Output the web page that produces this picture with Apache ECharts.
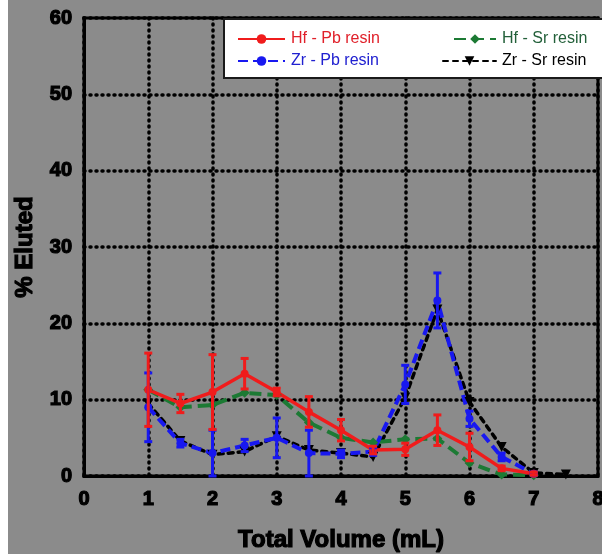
<!DOCTYPE html>
<html>
<head>
<meta charset="utf-8">
<script src="https://cdn.jsdelivr.net/npm/echarts@6/dist/echarts.min.js"></script>
<style>
  html, body { margin: 0; padding: 0; background: #ffffff; }
  #chart { position: absolute; left: 0; top: 0; width: 602px; height: 554px; }
</style>
</head>
<body>
<div id="chart"></div>
<script>
// Elution volumes (mL)
const volume = [1, 1.5, 2, 2.5, 3, 3.5, 4, 4.5, 5, 5.5, 6, 6.5, 7, 7.5];

// % eluted per fraction, with standard deviations where shown
const hfPb    = [11.3, 9.5, 11.0, 13.4, 11.0, 8.4, 6.0, 3.4, 3.5, 6.0, 3.8, 1.0, 0.3, null];
const hfPbErr = [4.8, 1.2, 4.9, 2.0, 0.5, 2.0, 1.4, 0.5, 0.8, 2.0, 1.8, 0.3, 0.2, null];
const zrPb    = [9.0, 4.3, 3.0, 4.0, 5.0, 3.0, 2.9, 3.2, 12.0, 23.0, 7.5, 2.5, 0.3, null];
const zrPbErr = [4.5, 0.5, 3.0, 0.8, 2.6, 3.0, 0.5, 0.5, 2.5, 3.6, 1.0, 0.5, 0.2, null];
const hfSr    = [11.3, 9.0, 9.3, 10.9, 10.6, 7.0, 5.0, 4.4, 4.8, 4.9, 1.7, 0.2, 0.1, null];
const zrSr    = [9.5, 4.6, 2.8, 3.2, 5.2, 3.4, 3.0, 2.5, 10.3, 21.8, 9.7, 3.8, 0.4, 0.2];

// Axis ticks
const xTicks = [0, 1, 2, 3, 4, 5, 6, 7, 8];
const yTicks = [0, 10, 20, 30, 40, 50, 60];

const seriesNames = ['Hf - Pb resin', 'Zr - Pb resin', 'Hf - Sr resin', 'Zr - Sr resin'];

const RED = '#f01c1c', BLUE = '#1818f0', GREEN = '#1c7a34', BLACK = '#000000';
const FONT = '"Liberation Sans", Arial, sans-serif';

function pairs(ys) {
  const out = [];
  ys.forEach((y, i) => { if (y !== null && y !== undefined) out.push([volume[i], y]); });
  return out;
}
function errTriples(ys, es) {
  const out = [];
  ys.forEach((y, i) => {
    if (y !== null && es[i] !== null) out.push([volume[i], Math.max(0, y - es[i]), y + es[i]]);
  });
  return out;
}
function errorBarSeries(ys, es, color) {
  return {
    type: 'custom',
    z: 3,
    silent: true,
    data: errTriples(ys, es),
    renderItem: function (params, api) {
      const lo = api.coord([api.value(0), api.value(1)]);
      const hi = api.coord([api.value(0), api.value(2)]);
      const cap = 4;
      const style = { stroke: color, lineWidth: 3 };
      return {
        type: 'group',
        children: [
          { type: 'line', shape: { x1: lo[0], y1: lo[1], x2: hi[0], y2: hi[1] }, style: style },
          { type: 'line', shape: { x1: hi[0] - cap, y1: hi[1], x2: hi[0] + cap, y2: hi[1] }, style: style },
          { type: 'line', shape: { x1: lo[0] - cap, y1: lo[1], x2: lo[0] + cap, y2: lo[1] }, style: style }
        ]
      };
    }
  };
}

const tickText = {
  color: '#000', fontFamily: FONT, fontWeight: 'bold', fontSize: 20,
  textBorderColor: '#000', textBorderWidth: 1.2
};

const chart = echarts.init(document.getElementById('chart'), null, { renderer: 'canvas' });

function legendAt(name, left, top, width, color) {
  return {
    data: [{ name: name, textStyle: { color: color } }],
    left: left, top: top, padding: 0,
    itemWidth: width, itemHeight: 12, itemGap: 0,
    selectedMode: false,
    textStyle: { fontFamily: FONT, fontSize: 16, padding: [0, 0, 0, 1] }
  };
}

chart.setOption({
  backgroundColor: '#8b8b8b',
  animation: false,
  grid: {
    left: 84, right: 4, top: 18, bottom: 78,
    outerBoundsMode: 'none', containLabel: false,
    show: true, borderColor: '#000', borderWidth: 3, backgroundColor: 'transparent'
  },
  xAxis: {
    type: 'value', min: xTicks[0], max: xTicks[xTicks.length - 1], interval: 1,
    name: 'Total Volume (mL)', nameLocation: 'middle', nameGap: 52,
    nameTextStyle: { color: '#000', fontFamily: FONT, fontWeight: 'bold', fontSize: 24, textBorderColor: '#000', textBorderWidth: 1.2 },
    axisLine: { show: true, lineStyle: { color: '#000', width: 3 } },
    axisTick: { show: false },
    axisLabel: Object.assign({ margin: 13, showMaxLabel: true, showMinLabel: true }, tickText),
    splitLine: { show: true, lineStyle: { color: '#000', width: 3.5, type: [1, 5], cap: 'round' } }
  },
  yAxis: {
    type: 'value', min: yTicks[0], max: yTicks[yTicks.length - 1], interval: 10,
    name: '% Eluted', nameLocation: 'middle', nameGap: 46, nameRotate: 90,
    nameTextStyle: { color: '#000', fontFamily: FONT, fontWeight: 'bold', fontSize: 24, textBorderColor: '#000', textBorderWidth: 1.2 },
    axisLine: { show: true, lineStyle: { color: '#000', width: 3 } },
    axisTick: { show: false },
    axisLabel: Object.assign({ margin: 12 }, tickText),
    splitLine: { show: true, lineStyle: { color: '#000', width: 3.5, type: [1, 5], cap: 'round' } }
  },
  graphic: [
    { type: 'rect', left: 0, top: 0, shape: { width: 8, height: 554 }, style: { fill: '#ffffff' }, z: -1 },
    { type: 'rect', left: 223, top: 18, shape: { width: 390, height: 59 },
      style: { fill: '#ffffff', stroke: '#1a1a1a', lineWidth: 2 }, z: 3 }
  ],
  legend: [
    legendAt(seriesNames[0], 237, 31, 47, '#e0202a'),
    legendAt(seriesNames[1], 237, 53, 47, '#2020d0'),
    legendAt(seriesNames[2], 453, 31, 42, '#23603a'),
    legendAt(seriesNames[3], 442, 53, 53, '#000000')
  ],
  series: [
    {
      name: seriesNames[3], type: 'line', z: 2, data: pairs(zrSr),
      symbol: 'triangle', symbolRotate: 180, symbolSize: 10,
      itemStyle: { color: BLACK },
      lineStyle: { color: BLACK, width: 3.5, type: [5, 5], cap: 'round' }
    },
    {
      name: seriesNames[2], type: 'line', z: 2, data: pairs(hfSr),
      symbol: 'diamond', symbolSize: 10,
      itemStyle: { color: GREEN },
      lineStyle: { color: GREEN, width: 4, type: [12, 6] }
    },
    errorBarSeries(zrPb, zrPbErr, BLUE),
    {
      name: seriesNames[1], type: 'line', z: 2, data: pairs(zrPb),
      symbol: 'circle', symbolSize: 8,
      itemStyle: { color: BLUE },
      lineStyle: { color: BLUE, width: 4, type: [10, 5] }
    },
    errorBarSeries(hfPb, hfPbErr, RED),
    {
      name: seriesNames[0], type: 'line', z: 2, data: pairs(hfPb),
      symbol: 'circle', symbolSize: 8,
      itemStyle: { color: RED },
      lineStyle: { color: RED, width: 3.5, type: 'solid' }
    }
  ]
});
</script>
</body>
</html>
